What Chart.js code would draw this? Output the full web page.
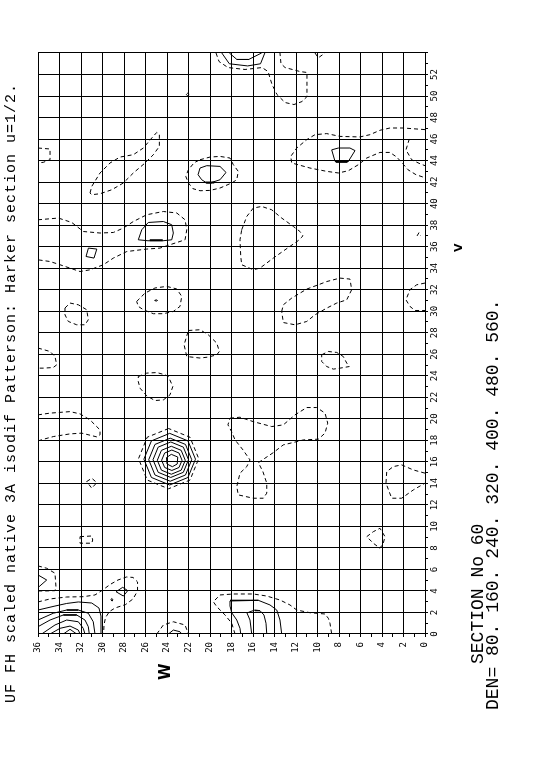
<!DOCTYPE html>
<html><head><meta charset="utf-8">
<script src="https://cdn.jsdelivr.net/npm/chart.js@4/dist/chart.umd.min.js"></script>
<style>
html,body{margin:0;padding:0;background:#fff;overflow:hidden;width:542px;height:768px;}
#wrap{position:absolute;left:0;top:0;width:768px;height:542px;transform-origin:0 0;transform:translate(0,768px) rotate(-90deg);background:#fff;}
canvas{display:block;}
</style></head><body>
<div id="wrap"><canvas id="c" width="768" height="542" style="width:768px;height:542px"></canvas></div>
<script>
// ---- texts ----
const titleText = "UF FH scaled native 3A isodif Patterson: Harker section u=1/2.";
const sectionText = "SECTION No 60";
const denLevels = [80, 160, 240, 320, 400, 480, 560];
const vAxisName = "V";
const wAxisName = "W";
const vTickLabels = [0,2,4,6,8,10,12,14,16,18,20,22,24,26,28,30,32,34,36,38,40,42,44,46,48,50,52];
const wTickLabels = [0,2,4,6,8,10,12,14,16,18,20,22,24,26,28,30,32,34,36];

// ---- contours, points are [V, W] ----
const c01 = [[54,19.44],[53.21,19.16],[52.65,18.33],[52.47,16.74],[52.65,15.16],[52.28,14.6],[51.07,14.23],[50.14,13.77],[49.4,13.02],[49.21,12.19],[49.49,11.44],[49.95,10.98],[52.19,10.98],[52.28,11.63],[52.65,13.02],[53.02,13.4],[54,13.49]];
const c02 = [[54,18.9],[53.0,18.2],[52.8,16.5],[53.0,15.3],[54,14.9]];
const c03 = [[54,18.2],[53.4,17.5],[53.4,16.4],[54,15.2]];
const c04 = [[54,10.23],[53.55,9.93],[54,9.3]];
const c05 = [[50.14,22.2],[50.27,22.07],[50.14,21.94],[50.01,22.07]];
const c06 = [[46.88,0],[47.03,2.02],[47.03,3.26],[46.82,4.19],[46.41,5.12],[46.2,6.05],[46.25,7.91],[46.51,9.14],[46.41,10.23],[45.95,11.0],[45.17,11.93],[44.39,12.49],[43.78,12.4],[43.31,10.7],[43.0,9.14],[42.85,8.06],[43.06,7.13],[43.62,6.2],[44.24,5.42],[44.76,4.19],[44.76,3.26],[44.33,2.63],[43.8,2.14],[43.15,1.58],[42.69,0.84],[42.41,0]];
const c07 = [[46.01,1.46],[45.0,1.77],[44.08,1.24],[43.71,0.47],[43.53,0]];
const c08 = [[45.0,8.68],[43.93,8.37],[43.93,7.13],[44.93,6.51],[45.17,6.98],[45.17,8.06]];
const c09 = [[45.17,36],[45.08,34.88],[44.08,34.88],[43.84,35.51],[43.78,36]];
const c10 = [[40.99,31.16],[41.6,31.0],[42.85,30.23],[43.78,29.3],[44.33,28.37],[44.55,27.13],[45.17,26.2],[46.1,25.42],[46.62,24.95],[46.41,24.71],[45.32,24.71],[44.55,25.27],[43.78,26.04],[42.85,27.13],[41.92,28.06],[41.29,29.14],[40.92,30.23],[40.83,31.0]];
const c11 = [[44.08,20.93],[44.33,20.0],[44.39,19.07],[44.24,18.14],[43.62,17.83],[43.0,17.37],[42.22,17.51],[41.92,17.98],[41.45,19.07],[41.23,20.0],[41.2,20.93],[41.39,21.58],[41.92,22.01],[42.53,22.25],[43.15,22.01],[43.8,21.48]];
const c12 = [[43.31,20.93],[43.53,20.3],[43.46,19.07],[42.9,18.51],[42.22,19.07],[41.97,19.84],[41.92,20.3],[42.22,20.77],[42.69,21.11]];
const c13 = [[37.57,17.05],[38.81,16.58],[39.59,15.97],[39.74,15.19],[39.43,14.26],[38.66,13.33],[37.88,12.25],[37.41,11.63],[37.01,11.35],[36.55,11.81],[35.71,13.02],[34.94,14.11],[34.01,15.35],[33.85,15.97],[34.32,17.05],[35.09,17.14],[36.64,17.21]];
const c14 = [[38.5,36],[38.66,34.1],[38.25,32.86],[37.41,31.78],[37.27,30.23],[37.32,28.99],[37.73,28.06],[38.34,27.13],[38.97,25.88],[39.27,24.34],[39.13,23.09],[38.5,22.32],[37.57,22.16],[36.64,22.32],[36.18,23.72],[35.87,24.65],[35.78,25.88],[35.55,27.74],[34.94,28.99],[34.32,29.92],[33.85,31.16],[33.69,32.09],[34.32,33.95],[34.62,34.88],[34.78,36]];
const c15 = [[36.64,26.67],[37.57,26.35],[38.25,25.74],[38.34,24.34],[38.04,23.56],[37.27,23.41],[36.64,23.56],[36.55,24.37],[36.55,25.77]];
const c16 = [[35.09,31.53],[35.87,31.31],[35.78,30.53],[34.94,30.79]];
const c17 = [[30.91,26.82],[31.69,26.04],[32.16,25.12],[32.31,24.03],[32.07,23.09],[31.38,22.63],[30.45,22.79],[29.98,23.41],[29.77,24.34],[29.77,25.27],[30.14,26.2],[30.45,26.67]];
const c18 = [[31.0,25.15],[31.06,25.0],[31.0,24.88],[30.94,25.0]];
const c19 = [[30.3,33.49],[30.76,33.02],[30.6,32.25],[30.14,31.47],[29.21,31.32],[28.74,31.63],[28.74,32.4],[29.05,33.18],[29.67,33.49]];
const c20 = [[26.58,36],[26.26,34.88],[25.79,34.42],[25.02,34.26],[24.77,34.58],[24.71,35.51],[24.71,36]];
const c21 = [[28.21,22.01],[28.28,20.93],[27.81,20.16],[27.04,19.37],[26.26,19.13],[25.95,19.37],[25.74,20.16],[25.65,20.93],[25.79,22.16],[26.88,22.41]];
const c22 = [[23.93,26.67],[24.25,25.88],[24.3,24.95],[24.09,24.18],[23.93,23.87],[23.0,23.46],[22.23,23.72],[21.76,24.34],[21.7,25.12],[22.13,25.88],[22.85,26.51],[23.46,26.67]];
const c23 = [[29.98,13.33],[30.6,13.18],[31.22,12.4],[32.06,11.0],[32.46,9.92],[32.76,9.14],[33.08,7.91],[32.99,6.98],[32.0,6.82],[31.06,7.28],[30.76,8.21],[30.29,9.14],[29.67,10.23],[29.05,11.0],[28.74,12.09],[28.95,13.18]];
const c24 = [[32.62,0],[32.46,0.77],[32.0,1.4],[31.06,1.77],[30.45,1.4],[30.07,0.93],[30.07,0]];
const c25 = [[25.95,9.61],[26.26,9.0],[26.17,8.21],[25.79,7.6],[25.18,7.28],[24.86,7.04],[24.71,7.91],[24.62,8.53],[24.86,9.14],[25.33,9.61]];
const c26 = [[20.06,18.14],[20.15,17.21],[19.74,15.97],[19.28,14.26],[19.44,13.18],[20.37,12.09],[21.05,11.0],[21.05,10.07],[20.53,9.3],[19.6,9.05],[18.67,9.3],[18.11,9.92],[18.04,11.32],[17.88,11.93],[17.58,13.18],[16.86,14.11],[15.93,15.5],[15.07,15.07],[14.02,14.72],[13.09,14.72],[12.62,15.04],[12.62,15.97],[12.93,17.37],[13.7,17.51],[14.95,17.21],[15.56,16.58],[16.18,16.28],[17.11,16.93],[18.04,17.67],[18.79,17.98],[19.44,18.33]];
const c27 = [[20.37,36],[20.53,34.88],[20.67,33.02],[20.46,32.09],[19.9,31.16],[18.97,30.23],[18.51,30.23],[18.32,30.53],[18.67,31.93],[18.6,33.02],[18.35,34.58],[18.14,35.35],[17.95,36]];
const c29 = [[14.17,31.47],[14.48,31.0],[14.07,30.53],[13.55,31.0]];
const c30 = [[9.05,32.09],[9.11,31.0],[8.74,30.91],[8.44,31.0],[8.44,32.09]];
const c31 = [[14.95,0],[15.25,1.09],[15.72,2.17],[15.56,2.95],[15.1,3.56],[14.02,3.63],[12.62,3.1],[12.62,2.17],[13.39,1.09],[14.02,0]];
const c32 = [[9.05,5.42],[9.51,4.81],[9.83,4.19],[9.05,3.72],[8.44,3.88],[7.97,4.19],[8.44,4.81]];
const c33 = [[6.33,36],[6.11,35.19],[5.65,34.42],[4.4,34.33],[4.03,34.42],[4.0,35.35],[4.0,36]];
const c34 = [[5.49,36],[5.02,35.19],[4.4,35.9]];
const c35 = [[2.98,36],[3.26,34.88],[3.44,33.33],[3.47,31.78],[3.63,30.7],[4.09,29.98],[4.6,29.3],[5.02,28.56],[5.3,27.77],[5.26,27.16],[4.84,26.74],[4.0,26.74],[3.26,27.16],[2.74,27.85],[2.42,28.83],[2.09,29.35],[1.53,29.72],[0.84,29.86],[0,29.9]];
const c36 = [[3.93,28.74],[4.34,28.12],[4.03,27.65],[3.53,28.06]];
const c37 = [[3.3,29.15],[3.2,29.03],[3.06,29.1],[3.16,29.22]];
const c38a = [[2.23,36],[2.6,34.42],[2.84,33.33],[2.98,32.25],[2.88,31.0],[2.42,30.33],[1.67,30.14],[0.84,30.14],[0,30.14]];
const c38b = [[1.3,36],[1.93,34.58],[2.23,33.33],[2.23,32.25],[1.93,31.32],[1.14,30.86],[0,30.7]];
const c38c = [[0.68,36],[1.3,34.88],[1.77,33.64],[1.77,32.4],[1.3,31.63],[0.68,31.32],[0,31.23]];
const c38d = [[0,35.66],[0.84,34.42],[1.3,33.33],[1.14,32.25],[0.53,31.79],[0,31.63]];
const c38e = [[0,34.88],[0.53,33.95],[0.74,33.02],[0.37,32.25],[0,32.09]];
const c38f = [[0,33.64],[0.44,33.02],[0,32.4]];
const c39 = [[0,17.67],[1.0,17.98],[1.77,18.6],[2.54,19.37],[3.0,19.69],[3.63,19.07],[3.72,17.83],[3.72,15.97],[3.53,14.72],[3.16,13.49],[2.7,12.56],[2.23,11.93],[1.98,10.7],[1.86,9.3],[1.46,8.99],[1.0,8.84],[0,8.68]];
const c40 = [[0,17.14],[0.53,17.21],[1.3,17.51],[1.98,17.98],[2.6,18.14],[3.07,18.14],[3.16,16.9],[3.1,15.5],[2.7,14.42],[2.23,13.79],[1.3,13.49],[0,13.33]];
const c41 = [[0,16.12],[1.3,16.28],[1.95,16.56],[2.07,16.28],[2.23,15.81],[2.17,15.35],[1.77,14.98],[1.0,14.79],[0,14.72]];
const c42 = [[0,24.95],[0.84,24.34],[1.14,23.41],[0.84,22.32],[0,22.01]];
const c43 = [[0,23.87],[0.37,23.41],[0.21,22.79],[0,22.63]];
const c44 = [[37.0,0.74],[37.3,0.56],[37.0,0.4]];
// big peak near V=16, W=23.6
const pk0 = [[19.1,23.85],[18.29,25.84],[16.3,26.65],[14.31,25.84],[13.5,23.85],[14.31,21.86],[16.3,21.05],[18.29,21.86]];
const pk1 = [[18.65,23.75],[17.95,25.45],[16.25,26.15],[14.55,25.45],[13.85,23.75],[14.55,22.05],[16.25,21.35],[17.95,22.05]];
const pk2 = [[18.2,23.7],[17.62,25.12],[16.2,25.7],[14.78,25.12],[14.2,23.7],[14.78,22.28],[16.2,21.7],[17.62,22.28]];
const pk3 = [[17.85,23.65],[17.37,24.82],[16.2,25.3],[15.03,24.82],[14.55,23.65],[15.03,22.48],[16.2,22.0],[17.37,22.48]];
const pk4 = [[17.45,23.6],[17.07,24.52],[16.15,24.9],[15.23,24.52],[14.85,23.6],[15.23,22.68],[16.15,22.3],[17.07,22.68]];
const pk5 = [[17.1,23.55],[16.82,24.22],[16.15,24.5],[15.48,24.22],[15.2,23.55],[15.48,22.88],[16.15,22.6],[16.82,22.88]];
const pk6 = [[16.7,23.6],[16.4,24.05],[15.8,24.0],[15.55,23.5],[15.8,23.05],[16.45,23.0]];
// heavy short strokes
const b1 = [[43.88,8.3],[43.88,7.2]];
const b2 = [[41.96,20.4],[41.96,19.6]];
const b3 = [[36.6,25.6],[36.6,24.4]];

const dashedClosed = [c10,c11,c13,c17,c19,c21,c22,c23,c25,c26,c29,c30,c32,pk0];
const dashedOpen = [c01,c04,c06,c07,c09,c14,c20,c24,c27,c31,c33,c35,c39,c42,c44];
const solidClosed = [c05,c08,c12,c15,c16,c18,c36,c37,pk1,pk2,pk3,pk4,pk5,pk6];
const solidOpen = [c02,c03,c34,c38a,c38b,c38c,c38d,c38e,c38f,c40,c41,c43];
const boldSegs = [b1,b2,b3];

function mk(pts, dashed, closed, width) {
  const src = closed ? pts.concat([pts[0]]) : pts;
  return {
    data: src.map(p => ({x: p[0], y: p[1]})),
    showLine: true, pointRadius: 0, pointHoverRadius: 0,
    borderColor: '#000', backgroundColor: '#000',
    borderWidth: width || 1, borderDash: dashed ? [4, 3] : [],
    fill: false, tension: 0
  };
}
const datasets = []
  .concat(dashedClosed.map(p => mk(p, true, true)))
  .concat(dashedOpen.map(p => mk(p, true, false)))
  .concat(solidClosed.map(p => mk(p, false, true)))
  .concat(solidOpen.map(p => mk(p, false, false)))
  .concat(boldSegs.map(p => mk(p, false, false, 2)));

const textPlugin = {
  id: 'texts',
  afterDraw(chart) {
    const ctx = chart.ctx;
    ctx.save();
    ctx.fillStyle = '#000';
    ctx.textBaseline = 'alphabetic';
    ctx.textAlign = 'left';
    ctx.font = '15px "Liberation Mono"';
    ctx.letterSpacing = '1px';
    ctx.fillText(titleText, 65, 15);
    ctx.font = '18px "Liberation Mono"';
    ctx.letterSpacing = '0px';
    ctx.fillText(sectionText, 104, 483);
    ctx.fillText('DEN= ' + denLevels.map(d => d + '.').join(' '), 58, 498);
    ctx.font = 'bold 15px "DejaVu Sans"';
    ctx.fillText(wAxisName, 88, 170);
    ctx.font = 'bold 11px "DejaVu Sans"';
    ctx.fillText(vAxisName, 516, 462);
    ctx.restore();
  }
};

const gridColor = c => (c.tick && Math.round(c.tick.value) % 2 === 0) ? '#000' : 'rgba(0,0,0,0)';

new Chart(document.getElementById('c'), {
  type: 'scatter',
  data: { datasets },
  options: {
    responsive: false, animation: false, events: [],
    layout: { padding: { left: 0, right: 53, top: 38, bottom: 0 } },
    plugins: { legend: { display: false }, tooltip: { enabled: false }, title: { display: false } },
    scales: {
      x: {
        type: 'linear', position: 'bottom', min: 0, max: 54,
        afterFit: s => { s.height = 117; },
        ticks: {
          stepSize: 1, autoSkip: false, maxRotation: 0, minRotation: 0, padding: 1,
          color: '#000', font: { family: 'DejaVu Sans Mono', size: 9 },
          callback: v => vTickLabels.includes(v) ? String(v) : ''
        },
        grid: { color: gridColor, tickColor: '#000', tickLength: 3, lineWidth: 1 },
        border: { display: true, color: '#000', width: 1 }
      },
      y: {
        type: 'linear', position: 'left', min: 0, max: 36,
        afterFit: s => { s.width = 134; },
        ticks: {
          stepSize: 1, autoSkip: false, padding: 5,
          color: '#000', font: { family: 'DejaVu Sans Mono', size: 9 },
          callback: v => wTickLabels.includes(v) ? String(v) : ''
        },
        grid: { color: gridColor, tickColor: '#000', tickLength: 3, lineWidth: 1 },
        border: { display: true, color: '#000', width: 1 }
      }
    }
  },
  plugins: [textPlugin]
});
</script>
</body></html>
